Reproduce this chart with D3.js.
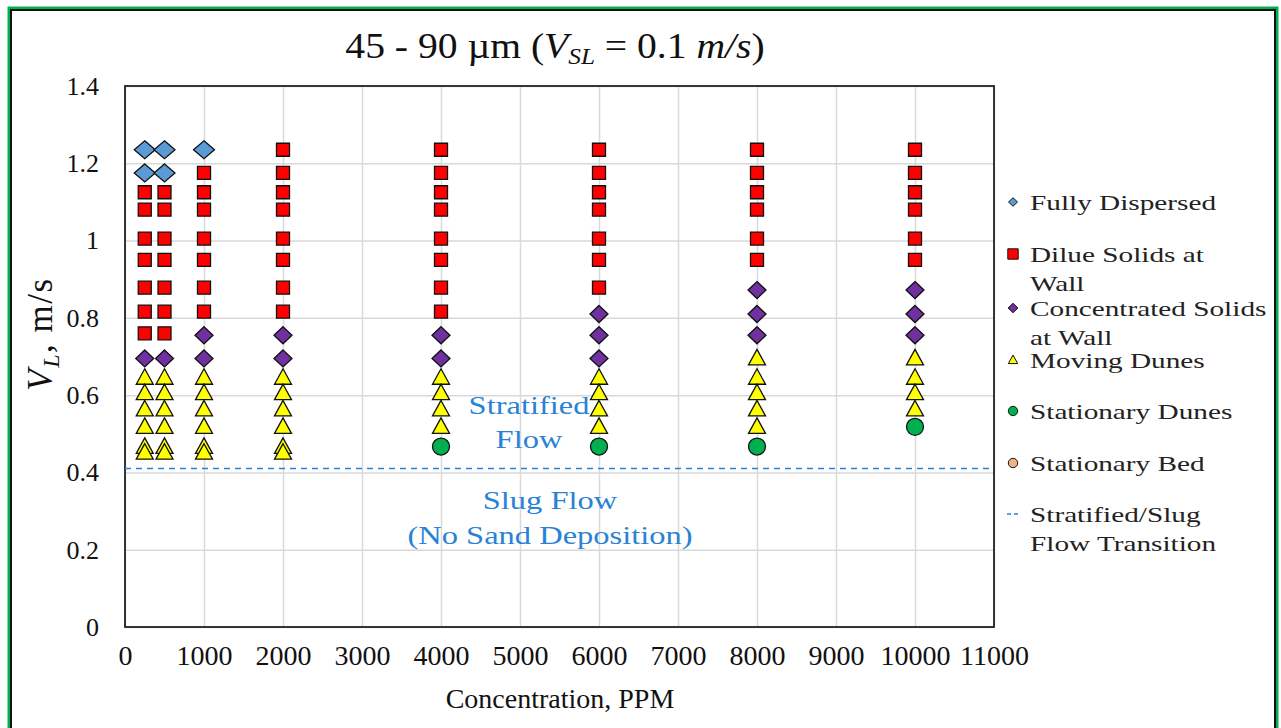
<!DOCTYPE html>
<html>
<head>
<meta charset="utf-8">
<script src="https://cdn.jsdelivr.net/npm/d3@7"></script>
<style>
  body { margin: 0; background: #fff; }
  svg { display: block; }
  .tick text { font-family: "Liberation Serif", serif; }
</style>
</head>
<body>
<svg width="1281" height="728"></svg>
<script>
// tick labels
var xTicks = [0, 1000, 2000, 3000, 4000, 5000, 6000, 7000, 8000, 9000, 10000, 11000];
var yTicks = [0, 0.2, 0.4, 0.6, 0.8, 1, 1.2, 1.4];

// each series: concentration (ppm) and liquid velocity (m/s)
var fullyPpm = [250, 500, 1000, 250, 500];
var fullyVl  = [1.235, 1.235, 1.235, 1.175, 1.175];

var diluePpm = [250, 250, 250, 250, 250, 250, 250,
                500, 500, 500, 500, 500, 500, 500,
                1000, 1000, 1000, 1000, 1000, 1000, 1000,
                2000, 2000, 2000, 2000, 2000, 2000, 2000, 2000,
                4000, 4000, 4000, 4000, 4000, 4000, 4000, 4000,
                6000, 6000, 6000, 6000, 6000, 6000, 6000,
                8000, 8000, 8000, 8000, 8000, 8000,
                10000, 10000, 10000, 10000, 10000, 10000];
var dilueVl  = [1.125, 1.08, 1.005, 0.95, 0.878, 0.816, 0.76,
                1.125, 1.08, 1.005, 0.95, 0.878, 0.816, 0.76,
                1.175, 1.125, 1.08, 1.005, 0.95, 0.878, 0.816,
                1.235, 1.175, 1.125, 1.08, 1.005, 0.95, 0.878, 0.816,
                1.235, 1.175, 1.125, 1.08, 1.005, 0.95, 0.878, 0.816,
                1.235, 1.175, 1.125, 1.08, 1.005, 0.95, 0.878,
                1.235, 1.175, 1.125, 1.08, 1.005, 0.95,
                1.235, 1.175, 1.125, 1.08, 1.005, 0.95];

var concPpm = [250, 500, 1000, 1000, 2000, 2000, 4000, 4000,
               6000, 6000, 6000, 8000, 8000, 8000, 10000, 10000, 10000];
var concVl  = [0.695, 0.695, 0.755, 0.695, 0.755, 0.695, 0.755, 0.695,
               0.81, 0.755, 0.695, 0.872, 0.81, 0.755, 0.872, 0.81, 0.755];

var movingPpm = [250, 250, 250, 250, 250, 250,
                 500, 500, 500, 500, 500, 500,
                 1000, 1000, 1000, 1000, 1000, 1000,
                 2000, 2000, 2000, 2000, 2000, 2000,
                 4000, 4000, 4000, 4000,
                 6000, 6000, 6000, 6000,
                 8000, 8000, 8000, 8000, 8000,
                 10000, 10000, 10000, 10000];
var movingVl  = [0.645, 0.605, 0.563, 0.518, 0.466, 0.451,
                 0.645, 0.605, 0.563, 0.518, 0.466, 0.451,
                 0.645, 0.605, 0.563, 0.518, 0.466, 0.451,
                 0.645, 0.605, 0.563, 0.518, 0.466, 0.451,
                 0.645, 0.605, 0.563, 0.518,
                 0.645, 0.605, 0.563, 0.518,
                 0.695, 0.645, 0.605, 0.563, 0.518,
                 0.695, 0.645, 0.605, 0.563];

var dunesPpm = [4000, 6000, 8000, 10000];
var dunesVl  = [0.467, 0.467, 0.467, 0.518];

var bedPpm = [];
var bedVl  = [];

var transitionPpm = [0, 11000];
var transitionVl  = [0.41, 0.41];

var legendLabels = [
  ["Fully Dispersed"],
  ["Dilue Solids at", "Wall"],
  ["Concentrated Solids", "at Wall"],
  ["Moving Dunes"],
  ["Stationary Dunes"],
  ["Stationary Bed"],
  ["Stratified/Slug", "Flow Transition"]
];

var svg = d3.select("svg"),
    margin = {top: 86, left: 125},
    width = 869,
    height = 541;

var x = d3.scaleLinear().domain([0, 11000]).range([margin.left, margin.left + width]),
    y = d3.scaleLinear().domain([0, 1.4]).range([margin.top + height, margin.top]);

var serif = "Liberation Serif, serif";
var lineBlue = "#2a82d4";

// outer frame (green with black inner line)
svg.append("rect").attr("x", 9).attr("y", 8).attr("width", 1268).attr("height", 740)
    .attr("fill", "none").attr("stroke", "#00b050").attr("stroke-width", 3);
svg.append("rect").attr("x", 11).attr("y", 10).attr("width", 1264).attr("height", 740)
    .attr("fill", "none").attr("stroke", "#111").attr("stroke-width", 2);

// gridlines
svg.append("g")
    .attr("transform", "translate(0," + (margin.top + height) + ")")
    .call(d3.axisBottom(x).tickValues(xTicks).tickSize(-height).tickFormat(""))
    .call(function(g) { g.select(".domain").remove(); })
    .selectAll("line").attr("stroke", "#d9d9d9").attr("stroke-width", 1.5);
svg.append("g")
    .attr("transform", "translate(" + margin.left + ",0)")
    .call(d3.axisLeft(y).tickValues(yTicks).tickSize(-width).tickFormat(""))
    .call(function(g) { g.select(".domain").remove(); })
    .selectAll("line").attr("stroke", "#d9d9d9").attr("stroke-width", 1.5);

// axes labels (no tick marks)
svg.append("g")
    .attr("transform", "translate(0," + (margin.top + height) + ")")
    .call(d3.axisBottom(x).tickValues(xTicks).tickSize(0).tickPadding(18).tickFormat(d3.format("d")))
    .call(function(g) { g.select(".domain").remove(); })
    .selectAll("text").attr("font-size", 28).attr("fill", "#111");
svg.append("g")
    .attr("transform", "translate(" + margin.left + ",0)")
    .call(d3.axisLeft(y).tickValues(yTicks).tickSize(0).tickPadding(26).tickFormat(function(d) { return d3.format("")(+d.toFixed(1)); }))
    .call(function(g) { g.select(".domain").remove(); })
    .selectAll("text").attr("font-size", 26).attr("fill", "#111");

// plot border
svg.append("rect")
    .attr("x", margin.left).attr("y", margin.top)
    .attr("width", width).attr("height", height)
    .attr("fill", "none").attr("stroke", "#222").attr("stroke-width", 1.8);

// transition line
svg.append("line")
    .attr("x1", x(transitionPpm[0])).attr("x2", x(transitionPpm[1]))
    .attr("y1", y(transitionVl[0])).attr("y2", y(transitionVl[1]))
    .attr("stroke", lineBlue).attr("stroke-width", 1.5)
    .attr("stroke-dasharray", "6,5");

function shape(type, s) {
  if (type == "diamondBig") return "M0," + (-9) + "L10.5,0L0,9L-10.5,0Z";
  if (type == "diamond") return "M0," + (-8.5 * s) + "L" + (9 * s) + ",0L0," + (8.5 * s) + "L" + (-9 * s) + ",0Z";
  if (type == "square") return "M" + (-6.5 * s) + "," + (-6.5 * s) + "h" + (13 * s) + "v" + (13 * s) + "h" + (-13 * s) + "Z";
  if (type == "triangle") return "M0," + (-9 * s) + "L" + (8.5 * s) + "," + (6.5 * s) + "L" + (-8.5 * s) + "," + (6.5 * s) + "Z";
  if (type == "circle") return d3.symbol().type(d3.symbolCircle).size(Math.PI * 8.5 * 8.5 * s * s)();
}

var series = [
  {ppm: fullyPpm,  vl: fullyVl,  type: "diamondBig", fill: "#5b9bd5"},
  {ppm: diluePpm,  vl: dilueVl,  type: "square",     fill: "#ff0000"},
  {ppm: concPpm,   vl: concVl,   type: "diamond",    fill: "#7030a0"},
  {ppm: movingPpm, vl: movingVl, type: "triangle",   fill: "#ffff00"},
  {ppm: dunesPpm,  vl: dunesVl,  type: "circle",     fill: "#00b050"},
  {ppm: bedPpm,    vl: bedVl,    type: "circle",     fill: "#f4b183"}
];

series.forEach(function(s) {
  svg.append("g").selectAll("path")
    .data(d3.range(s.ppm.length))
    .enter().append("path")
      .attr("transform", function(i) { return "translate(" + x(s.ppm[i]) + "," + y(s.vl[i]) + ")"; })
      .attr("d", shape(s.type, 1))
      .attr("fill", s.fill)
      .attr("stroke", "#111")
      .attr("stroke-width", 1.3);
});

// in-plot annotations (text in the original is stretched sideways)
var notes = svg.append("g").attr("fill", lineBlue).attr("font-family", serif)
    .attr("font-size", 25).attr("text-anchor", "middle");
[["Stratified", 529, 414], ["Flow", 529, 448],
 ["Slug Flow", 550, 509], ["(No Sand Deposition)", 550, 544]].forEach(function(n) {
  notes.append("text")
    .attr("transform", "translate(" + n[1] + "," + n[2] + ") scale(1.3,1)")
    .text(n[0]);
});

// title
var title = svg.append("text")
    .attr("transform", "translate(555,58) scale(1.1,1)")
    .attr("text-anchor", "middle").attr("font-family", serif).attr("font-size", 36)
    .attr("fill", "#111");
title.append("tspan").text("45 - 90 \u00b5m (");
title.append("tspan").attr("font-style", "italic").text("V");
title.append("tspan").attr("font-style", "italic").attr("font-size", 23).attr("dy", 6).text("SL");
title.append("tspan").attr("dy", -6).text(" = 0.1 ");
title.append("tspan").attr("font-style", "italic").text("m/s");
title.append("tspan").text(")");

// axis titles
svg.append("text").attr("x", 560).attr("y", 708)
    .attr("text-anchor", "middle").attr("font-family", serif).attr("font-size", 28).attr("fill", "#111")
    .text("Concentration, PPM");

var ylab = svg.append("text")
    .attr("transform", "translate(52,334) rotate(-90)")
    .attr("text-anchor", "middle").attr("font-family", serif).attr("font-size", 35)
    .attr("letter-spacing", 1.5).attr("fill", "#111");
ylab.append("tspan").attr("font-style", "italic").text("V");
ylab.append("tspan").attr("font-style", "italic").attr("font-size", 24).attr("dy", 7).text("L");
ylab.append("tspan").attr("dy", -7).text(", m/s");

// legend
var legendY = [202, 254, 308, 360, 411, 463, 514];
var legend = svg.append("g");
legendLabels.forEach(function(lines, i) {
  var g = legend.append("g").attr("transform", "translate(1013," + legendY[i] + ")");
  if (i < 6) {
    var s = series[i];
    var sz = i == 0 ? 0.5 : (i == 1 ? 0.8 : 0.55);
    var t = s.type == "diamondBig" ? "diamond" : s.type;
    g.append("path").attr("d", shape(t, sz))
      .attr("fill", s.fill).attr("stroke", "#111").attr("stroke-width", 1);
  } else {
    g.append("line").attr("x1", -6).attr("x2", 6).attr("stroke", lineBlue).attr("stroke-width", 1.5)
      .attr("stroke-dasharray", "4,3");
  }
  lines.forEach(function(l, j) {
    g.append("text")
      .attr("transform", "translate(17," + (8 + j * 29) + ") scale(1.33,1)")
      .attr("font-family", serif).attr("font-size", 22)
      .attr("fill", "#222")
      .text(l);
  });
});
</script>
</body>
</html>
